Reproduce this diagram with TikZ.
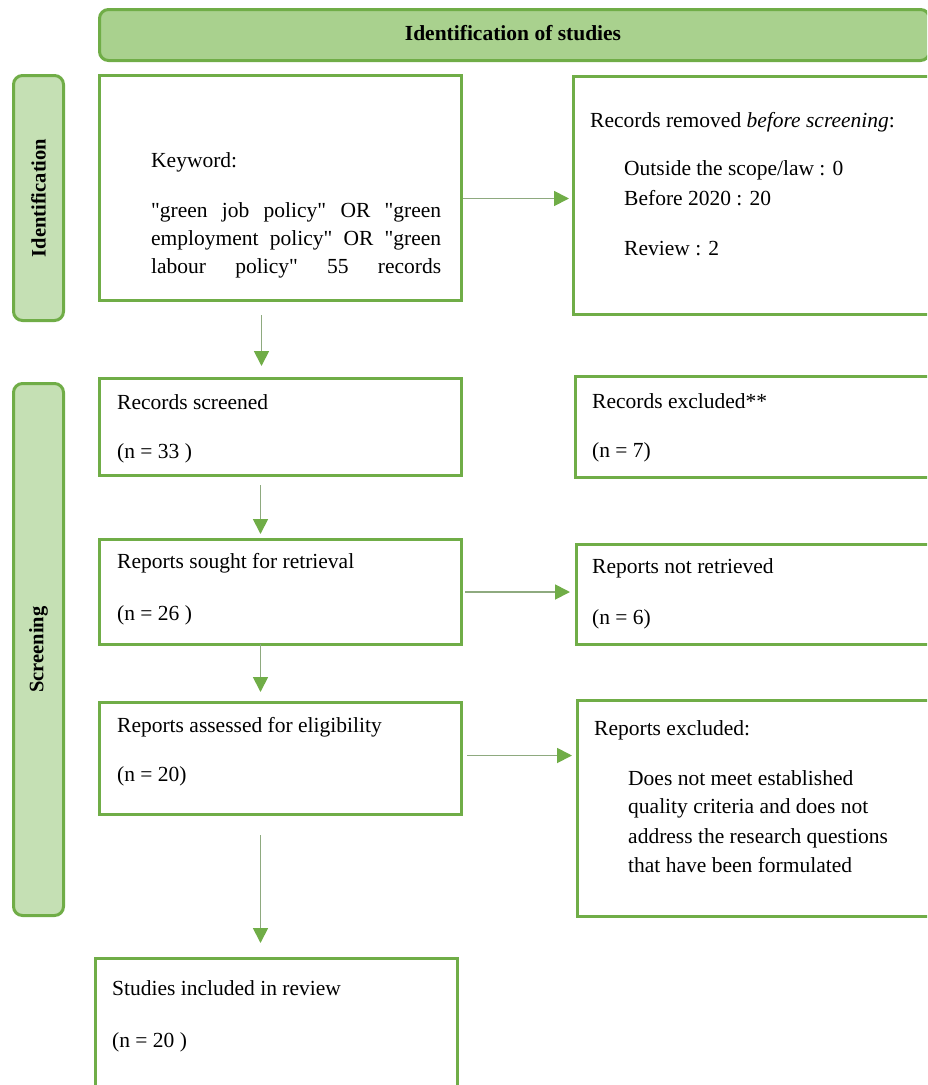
\documentclass[tikz,border=0pt]{standalone}
\usepackage{fontspec}
\setmainfont{Liberation Serif}[Ligatures=TeXOff]
\usetikzlibrary{arrows.meta}
\definecolor{grn}{HTML}{70AD47}
\definecolor{hdrfill}{HTML}{A9D18E}
\definecolor{sidefill}{HTML}{C5E0B4}
\definecolor{arrline}{HTML}{8EAA7F}
\tikzset{
  box/.style={draw=grn, line width=3pt, fill=white, anchor=north west, inner sep=0pt},
  hdrbox/.style={box, fill=hdrfill, rounded corners=9pt},
  sidebox/.style={box, fill=sidefill, rounded corners=9pt},
  txt/.style={anchor=base west, inner sep=0pt, font=\fontsize{21.5}{25}\selectfont},
  btxt/.style={inner sep=0pt, font=\fontsize{21.5}{25}\selectfont\bfseries},
  arr/.style={draw=arrline, line width=1.8pt, -{Triangle[length=15pt,width=15pt,color=grn]}}
}
\begin{document}
\begin{tikzpicture}[x=1pt,y=-1pt]
\path[use as bounding box] (0,0) rectangle (927,1085);
\clip (0,0) rectangle (927,1085);
% header and side labels
\node[hdrbox, minimum width=830pt, minimum height=51pt] (hdr) at (98,8) {};
\node[btxt, anchor=base] (hdrt) at (513,40) {Identification of studies};
\node[sidebox, minimum width=50pt, minimum height=245pt] (idl) at (12,74) {};
\node[btxt, rotate=90, font=\fontsize{20.5}{25}\selectfont\bfseries] (idlt) at (idl.center) {Identification};
\node[sidebox, minimum width=50pt, minimum height=532pt] (scl) at (12,382) {};
\node[btxt, rotate=90, font=\fontsize{20.5}{25}\selectfont\bfseries] (sclt) at (scl.center) {Screening};
% boxes
\node[box, minimum width=362pt, minimum height=225pt] (kw) at (98,74) {};
\node[box, minimum width=370pt, minimum height=238pt] (rem) at (572,75) {};
\node[box, minimum width=362pt, minimum height=97pt] (rs) at (98,377) {};
\node[box, minimum width=370pt, minimum height=101pt] (rex) at (574,375) {};
\node[box, minimum width=362pt, minimum height=105pt] (rsr) at (98,538) {};
\node[box, minimum width=370pt, minimum height=100pt] (rnr) at (575,543) {};
\node[box, minimum width=362pt, minimum height=112pt] (ra) at (98,701) {};
\node[box, minimum width=370pt, minimum height=216pt] (rx) at (576,699) {};
\node[box, minimum width=362pt, minimum height=150pt] (si) at (94,957) {};
% texts
\node[txt] (t1) at (151,167) {Keyword:};
\node[txt] (t2) at (151,217) {\hbox to 290pt{"green\hfill job\hfill policy"\hfill OR\hfill "green}};
\node[txt] (t3) at (151,245) {\hbox to 290pt{employment\hfill policy"\hfill OR\hfill "green}};
\node[txt] (t4) at (151,273) {\hbox to 290pt{labour\hfill policy"\hfill 55\hfill records}};
\node[txt] (t5) at (590,127) {Records removed \textit{before screening}:};
\node[txt] (t6) at (624,175) {Outside the scope/law : 0};
\node[txt] (t7) at (624,205) {Before 2020 : 20};
\node[txt] (t8) at (624,255) {Review : 2};
\node[txt] (t9) at (117,409) {Records screened};
\node[txt] (t10) at (117,458) {(n = 33 )};
\node[txt] (t11) at (592,408) {Records excluded**};
\node[txt] (t12) at (592,457) {(n = 7)};
\node[txt] (t13) at (117,568) {Reports sought for retrieval};
\node[txt] (t14) at (117,620) {(n = 26 )};
\node[txt] (t15) at (592,573) {Reports not retrieved};
\node[txt] (t16) at (592,624) {(n = 6)};
\node[txt] (t17) at (117,732) {Reports assessed for eligibility};
\node[txt] (t18) at (117,781) {(n = 20)};
\node[txt] (t19) at (594,735) {Reports excluded:};
\node[txt] (t20) at (628,785) {Does not meet established};
\node[txt] (t21) at (628,813) {quality criteria and does not};
\node[txt] (t22) at (628,843) {address the research questions};
\node[txt] (t23) at (628,872) {that have been formulated};
\node[txt] (t24) at (112,995) {Studies included in review};
\node[txt] (t25) at (112,1047) {(n = 20 )};
% arrows
\draw[arr] ([yshift=-10.5pt]kw.east) -- ([xshift=-3pt,yshift=-3pt]rem.west);
\draw[arr] ([xshift=-19pt,yshift=-13pt]kw.south) -- ([xshift=-19pt,yshift=11pt]rs.north);
\draw[arr] ([xshift=-20pt,yshift=-8pt]rs.south) -- ([xshift=-20pt,yshift=4pt]rsr.north);
\draw[arr] ([xshift=2pt]rsr.east) -- ([xshift=-5pt,yshift=2.5pt]rnr.west);
\draw[arr] ([xshift=-20pt,yshift=2pt]rsr.south) -- ([xshift=-20pt,yshift=9pt]ra.north);
\draw[arr] ([xshift=4pt,yshift=3pt]ra.east) -- ([xshift=-4pt,yshift=53pt]rx.west);
\draw[arr] ([xshift=-20pt,yshift=-19pt]ra.south) -- ([xshift=-16pt,yshift=14pt]si.north);
\end{tikzpicture}
\end{document}
